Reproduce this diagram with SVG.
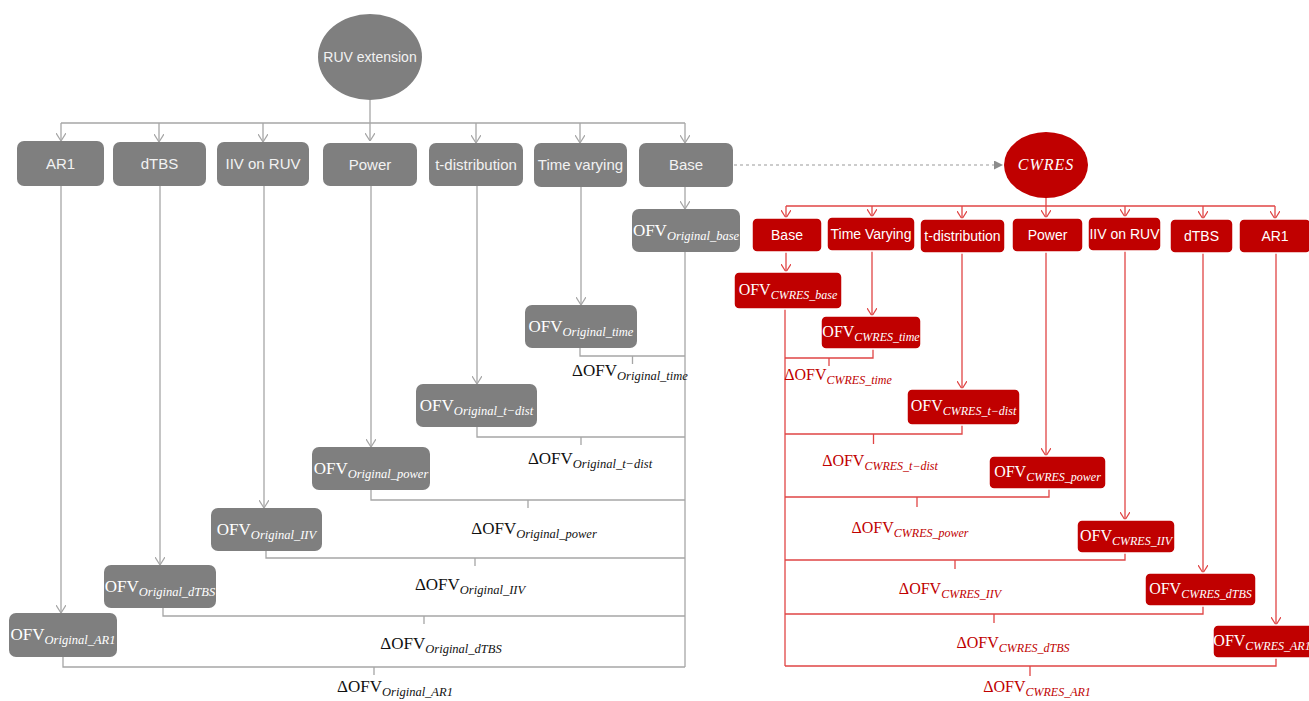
<svg xmlns="http://www.w3.org/2000/svg" width="1309" height="701" viewBox="0 0 1309 701">
<defs>
<style>
.gb{fill:#7f7f7f}
.rb{fill:#c00000;stroke:#ffffff;stroke-width:1.5}
.gl{fill:none;stroke:#a6a6a6;stroke-width:1.3}
.rl{fill:none;stroke:#e04545;stroke-width:1.3}
.lbl{font-family:"Liberation Sans",Arial,sans-serif;fill:#f2f2f2;text-anchor:middle}
.g15{font-size:15px}
.r14{font-size:14px;fill:#ffffff}
.ofv{font-family:"Liberation Serif","Times New Roman",serif;font-size:17px;text-anchor:middle}
.ofvr{font-family:"Liberation Serif","Times New Roman",serif;font-size:16px;text-anchor:middle}
.w{fill:#ffffff}
.k{fill:#111111}
.red{fill:#c00000}
.sub{font-style:italic;font-size:12.5px}
.subr{font-style:italic;font-size:12px}
</style>
<marker id="ag" viewBox="0 0 8 10" refX="8" refY="5" markerWidth="8" markerHeight="10" orient="auto" markerUnits="userSpaceOnUse"><path d="M0,0 L8,5 L0,10" fill="none" stroke="#a6a6a6" stroke-width="1.2"/></marker>
<marker id="ar" viewBox="0 0 8 10" refX="8" refY="5" markerWidth="8" markerHeight="10" orient="auto" markerUnits="userSpaceOnUse"><path d="M0,0 L8,5 L0,10" fill="none" stroke="#e04545" stroke-width="1.2"/></marker>
<marker id="at" viewBox="0 0 10 10" refX="10" refY="5" markerWidth="9" markerHeight="9" orient="auto" markerUnits="userSpaceOnUse"><path d="M0,0 L10,5 L0,10 Z" fill="#8c8c8c"/></marker>
</defs>

<g id="connectors">
<path class="gl" d="M370,100 V141" marker-end="url(#ag)"/>
<path class="gl" d="M61,123 H685"/>
<path class="gl" d="M61,123 V141" marker-end="url(#ag)"/>
<path class="gl" d="M159,123 V142" marker-end="url(#ag)"/>
<path class="gl" d="M263,123 V142" marker-end="url(#ag)"/>
<path class="gl" d="M476,123 V143" marker-end="url(#ag)"/>
<path class="gl" d="M580,123 V143" marker-end="url(#ag)"/>
<path class="gl" d="M685,123 V143" marker-end="url(#ag)"/>
<path class="gl" d="M685,187 V209" marker-end="url(#ag)"/>
<path class="gl" d="M581,187 V305" marker-end="url(#ag)"/>
<path class="gl" d="M477,186 V384" marker-end="url(#ag)"/>
<path class="gl" d="M371,186 V447" marker-end="url(#ag)"/>
<path class="gl" d="M264,186 V508" marker-end="url(#ag)"/>
<path class="gl" d="M160,186 V565" marker-end="url(#ag)"/>
<path class="gl" d="M61,186 V613" marker-end="url(#ag)"/>
<path class="gl" d="M685,252 V667"/>
<path class="gl" d="M580,348 V356 H685 M632.5,356 V364"/>
<path class="gl" d="M477,427 V437 H685 M581,437 V445"/>
<path class="gl" d="M371,490 V500 H685 M528,500 V508"/>
<path class="gl" d="M266,551 V558 H685 M475,558 V566"/>
<path class="gl" d="M163,608 V616 H685 M424,616 V624"/>
<path class="gl" d="M63,657 V667 H685 M374,667 V675"/>
<path d="M734,165 H1003" fill="none" stroke="#9a9a9a" stroke-width="1.2" stroke-dasharray="3,3" marker-end="url(#at)"/>
<path class="rl" d="M1046,198 V218" marker-end="url(#ar)"/>
<path class="rl" d="M786,206 H1275"/>
<path class="rl" d="M786,206 V218" marker-end="url(#ar)"/>
<path class="rl" d="M872,206 V217" marker-end="url(#ar)"/>
<path class="rl" d="M962,206 V219" marker-end="url(#ar)"/>
<path class="rl" d="M1125,206 V217" marker-end="url(#ar)"/>
<path class="rl" d="M1203,206 V219" marker-end="url(#ar)"/>
<path class="rl" d="M1275,206 V219" marker-end="url(#ar)"/>
<path class="rl" d="M786,252 V272" marker-end="url(#ar)"/>
<path class="rl" d="M872,251 V316" marker-end="url(#ar)"/>
<path class="rl" d="M962,253 V389" marker-end="url(#ar)"/>
<path class="rl" d="M1046,252 V456" marker-end="url(#ar)"/>
<path class="rl" d="M1125,251 V520" marker-end="url(#ar)"/>
<path class="rl" d="M1203,253 V573" marker-end="url(#ar)"/>
<path class="rl" d="M1276,253 V625" marker-end="url(#ar)"/>
<path class="rl" d="M785,309 V666"/>
<path class="rl" d="M785,358 H873 V349 M829,358 V366"/>
<path class="rl" d="M785,434 H962 V425 M873.5,434 V444"/>
<path class="rl" d="M785,497 H1049 V489 M917,497 V507"/>
<path class="rl" d="M785,560 H1125 V553 M955,560 V569"/>
<path class="rl" d="M785,614 H1203 V606 M994,614 V623"/>
<path class="rl" d="M785,666 H1276 V658 M1030,666 V676"/>
</g>

<g id="ruv-extension"><ellipse class="gb" cx="370" cy="57" rx="52" ry="43"/><text class="lbl" x="370" y="62" font-size="14">RUV extension</text></g>
<g id="g-ar1"><rect class="gb" x="17" y="141" width="87" height="45" rx="7"/><text class="lbl g15" x="60.5" y="169">AR1</text></g>
<g id="g-dtbs"><rect class="gb" x="113" y="142" width="93" height="44" rx="7"/><text class="lbl g15" x="159.5" y="169">dTBS</text></g>
<g id="g-iiv"><rect class="gb" x="217" y="142" width="92" height="44" rx="7"/><text class="lbl g15" x="263" y="169">IIV on RUV</text></g>
<g id="g-power"><rect class="gb" x="323" y="143" width="94" height="43" rx="7"/><text class="lbl g15" x="370" y="170">Power</text></g>
<g id="g-tdist"><rect class="gb" x="429" y="143" width="94" height="43" rx="7"/><text class="lbl g15" x="476" y="170">t-distribution</text></g>
<g id="g-time"><rect class="gb" x="534" y="143" width="93" height="44" rx="7"/><text class="lbl g15" x="580.5" y="170">Time varying</text></g>
<g id="g-base"><rect class="gb" x="639" y="143" width="94" height="44" rx="7"/><text class="lbl g15" x="686" y="170">Base</text></g>

<g id="g-ofv-base"><rect class="gb" x="632" y="209" width="108" height="43" rx="7"/><text class="ofv w" x="686" y="236">OFV<tspan class="sub" dy="4">Original_base</tspan></text></g>
<g id="g-ofv-time"><rect class="gb" x="525" y="305" width="112" height="43" rx="7"/><text class="ofv w" x="581" y="332">OFV<tspan class="sub" dy="4">Original_time</tspan></text></g>
<g id="g-ofv-tdist"><rect class="gb" x="416" y="384" width="121" height="43" rx="7"/><text class="ofv w" x="476.5" y="411">OFV<tspan class="sub" dy="4">Original_t−dist</tspan></text></g>
<g id="g-ofv-power"><rect class="gb" x="312" y="447" width="118" height="43" rx="7"/><text class="ofv w" x="371" y="474">OFV<tspan class="sub" dy="4">Original_power</tspan></text></g>
<g id="g-ofv-iiv"><rect class="gb" x="211" y="508" width="111" height="43" rx="7"/><text class="ofv w" x="266.5" y="535">OFV<tspan class="sub" dy="4">Original_IIV</tspan></text></g>
<g id="g-ofv-dtbs"><rect class="gb" x="104" y="565" width="112" height="43" rx="7"/><text class="ofv w" x="160" y="592">OFV<tspan class="sub" dy="4">Original_dTBS</tspan></text></g>
<g id="g-ofv-ar1"><rect class="gb" x="9" y="613" width="108" height="44" rx="7"/><text class="ofv w" x="63" y="640">OFV<tspan class="sub" dy="4">Original_AR1</tspan></text></g>

<g id="g-deltas">
<text class="ofv k" x="630" y="376">ΔOFV<tspan class="sub" dy="4">Original_time</tspan></text>
<text class="ofv k" x="590" y="464">ΔOFV<tspan class="sub" dy="4">Original_t−dist</tspan></text>
<text class="ofv k" x="534" y="534">ΔOFV<tspan class="sub" dy="4">Original_power</tspan></text>
<text class="ofv k" x="470" y="590">ΔOFV<tspan class="sub" dy="4">Original_IIV</tspan></text>
<text class="ofv k" x="441" y="649">ΔOFV<tspan class="sub" dy="4">Original_dTBS</tspan></text>
<text class="ofv k" x="395" y="692">ΔOFV<tspan class="sub" dy="4">Original_AR1</tspan></text>
</g>

<g id="cwres"><ellipse cx="1046" cy="165" rx="42" ry="33" fill="#c00000"/><text x="1046" y="170" font-family="Liberation Serif,serif" font-style="italic" font-size="16" letter-spacing="1" fill="#ffffff" text-anchor="middle">CWRES</text></g>
<g id="r-base"><rect class="rb" x="752" y="218" width="70" height="34" rx="5"/><text class="lbl r14" x="787" y="240">Base</text></g>
<g id="r-time"><rect class="rb" x="827" y="217" width="88" height="34" rx="5"/><text class="lbl r14" x="871" y="239">Time Varying</text></g>
<g id="r-tdist"><rect class="rb" x="920" y="219" width="85" height="34" rx="5"/><text class="lbl r14" x="962.5" y="241">t-distribution</text></g>
<g id="r-power"><rect class="rb" x="1012" y="218" width="71" height="34" rx="5"/><text class="lbl r14" x="1047.5" y="240">Power</text></g>
<g id="r-iiv"><rect class="rb" x="1088" y="217" width="73" height="34" rx="5"/><text class="lbl r14" x="1124.5" y="239">IIV on RUV</text></g>
<g id="r-dtbs"><rect class="rb" x="1170" y="219" width="63" height="34" rx="5"/><text class="lbl r14" x="1201.5" y="241">dTBS</text></g>
<g id="r-ar1"><rect class="rb" x="1239" y="219" width="72" height="34" rx="5"/><text class="lbl r14" x="1275" y="241">AR1</text></g>

<g id="r-ofv-base"><rect class="rb" x="734" y="272" width="108" height="37" rx="5"/><text class="ofvr w" x="788" y="295">OFV<tspan class="subr" dy="4">CWRES_base</tspan></text></g>
<g id="r-ofv-time"><rect class="rb" x="821" y="316" width="100" height="33" rx="5"/><text class="ofvr w" x="871" y="337">OFV<tspan class="subr" dy="4">CWRES_time</tspan></text></g>
<g id="r-ofv-tdist"><rect class="rb" x="907" y="389" width="113" height="36" rx="5"/><text class="ofvr w" x="963.5" y="411">OFV<tspan class="subr" dy="4">CWRES_t−dist</tspan></text></g>
<g id="r-ofv-power"><rect class="rb" x="989" y="456" width="117" height="33" rx="5"/><text class="ofvr w" x="1047.5" y="477">OFV<tspan class="subr" dy="4">CWRES_power</tspan></text></g>
<g id="r-ofv-iiv"><rect class="rb" x="1077" y="520" width="98" height="33" rx="5"/><text class="ofvr w" x="1126" y="541">OFV<tspan class="subr" dy="4">CWRES_IIV</tspan></text></g>
<g id="r-ofv-dtbs"><rect class="rb" x="1145" y="573" width="111" height="33" rx="5"/><text class="ofvr w" x="1200.5" y="594">OFV<tspan class="subr" dy="4">CWRES_dTBS</tspan></text></g>
<g id="r-ofv-ar1"><rect class="rb" x="1213" y="625" width="100" height="33" rx="5"/><text class="ofvr w" x="1262" y="646">OFV<tspan class="subr" dy="4">CWRES_AR1</tspan></text></g>

<g id="r-deltas">
<text class="ofvr red" x="838" y="380">ΔOFV<tspan class="subr" dy="4">CWRES_time</tspan></text>
<text class="ofvr red" x="880" y="466">ΔOFV<tspan class="subr" dy="4">CWRES_t−dist</tspan></text>
<text class="ofvr red" x="910" y="533">ΔOFV<tspan class="subr" dy="4">CWRES_power</tspan></text>
<text class="ofvr red" x="950" y="594">ΔOFV<tspan class="subr" dy="4">CWRES_IIV</tspan></text>
<text class="ofvr red" x="1013" y="648">ΔOFV<tspan class="subr" dy="4">CWRES_dTBS</tspan></text>
<text class="ofvr red" x="1037" y="692">ΔOFV<tspan class="subr" dy="4">CWRES_AR1</tspan></text>
</g>
</svg>
